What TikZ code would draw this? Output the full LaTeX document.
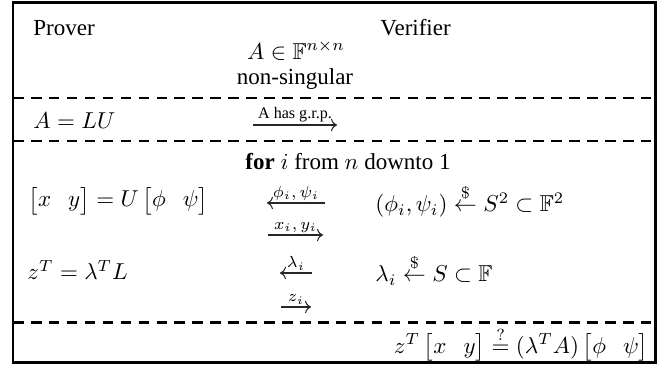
\documentclass[tikz,border=0pt]{standalone}
\usepackage{amsmath,amssymb}
\usepackage[no-math]{fontspec}
\setmainfont{Liberation Serif}
\usetikzlibrary{
    arrows.meta,
    positioning
}
\newcommand{\pairvec}[2]{\mathinner{\setlength{\arraycolsep}{3.7pt}\begin{bmatrix} #1 & #2 \end{bmatrix}}}
\tikzset{
    % Table rules
    outerframe/.style={
        draw=black,
        line width=1.3pt
    },
    divider/.style={
        draw=black,
        line width=1.3pt,
        dash pattern=on 4.6pt off 3.2pt
    },
    % Text cells
    party/.style={
        anchor=base west,
        inner sep=0pt
    },
    stmt/.style={
        anchor=west,
        inner sep=0pt
    },
    % Messages
    msg/.style={
        line width=0.45pt,
        draw=black!85
    },
    sendright/.style={
        msg,
        -{Computer Modern Rightarrow}
    },
    sendleft/.style={
        msg,
        {Computer Modern Rightarrow}-
    },
    msglabel/.style={
        font=\scriptsize,
        inner sep=1pt
    }
}

\begin{document}
\begin{tikzpicture}[x=0.4348pt, y=-0.4348pt]

    \useasboundingbox (0,0) rectangle (668,365);

    % Frame and rules
    \draw[outerframe] (13,2.5) rectangle (655,362);
    \draw[divider] (13,98) -- (655,98);
    \draw[divider] (13,141) -- (655,141);
    \draw[divider] (13,322) -- (655,322);

    % Header
    \node[party] (prover) at (33,35) {Prover};
    \node[party] (verifier) at (380,35) {Verifier};
    \node[anchor=base] (inputA) at (296,59) {$A \in \mathbb{F}^{n\times n}$};
    \node[anchor=base] (nonsing) at (295,84) {non-singular};

    % Decomposition
    \node[party] (lu) at (33,128) {$A = LU$};
    \coordinate (grpL) at (253,125);
    \coordinate (grpR) at (337,125);
    \draw[sendright] (grpL) -- node[msglabel, above] {A has g.r.p.} (grpR);

    % Loop
    \node[anchor=base] (loop) at (348,169) {\textbf{for} $i$ from $n$ downto 1};

    \node[stmt] (splitU) at (28,201) {$\pairvec{x}{y} = U \pairvec{\phi}{\psi}$};
    \node[stmt] (pickPhi) at (375,201) {$(\phi_i,\psi_i) \overset{\$}{\leftarrow} S^2 \subset \mathbb{F}^2$};
    \coordinate (phiL) at (267,203);
    \coordinate (phiR) at (325,203);
    \draw[sendleft] (phiL) -- node[msglabel, above] {$\phi_i,\psi_i$} (phiR);
    \coordinate (xyL) at (268,235);
    \coordinate (xyR) at (323,235);
    \draw[sendright] (xyL) -- node[msglabel, above] {$x_i,y_i$} (xyR);

    \node[stmt] (splitL) at (27,270) {$z^T = \lambda^T L$};
    \node[stmt] (pickLam) at (375,270) {$\lambda_i \overset{\$}{\leftarrow} S \subset \mathbb{F}$};
    \coordinate (lamL) at (280,273);
    \coordinate (lamR) at (312,273);
    \draw[sendleft] (lamL) -- node[msglabel, above] {$\lambda_i$} (lamR);
    \coordinate (zL) at (281,307);
    \coordinate (zR) at (311,307);
    \draw[sendright] (zL) -- node[msglabel, above] {$z_i$} (zR);

    % Final check
    \node[anchor=east, inner sep=0pt] (check) at (649,344) {$z^T \pairvec{x}{y} \stackrel{?}{=} (\lambda^T A) \pairvec{\phi}{\psi}$};

\end{tikzpicture}
\end{document}
